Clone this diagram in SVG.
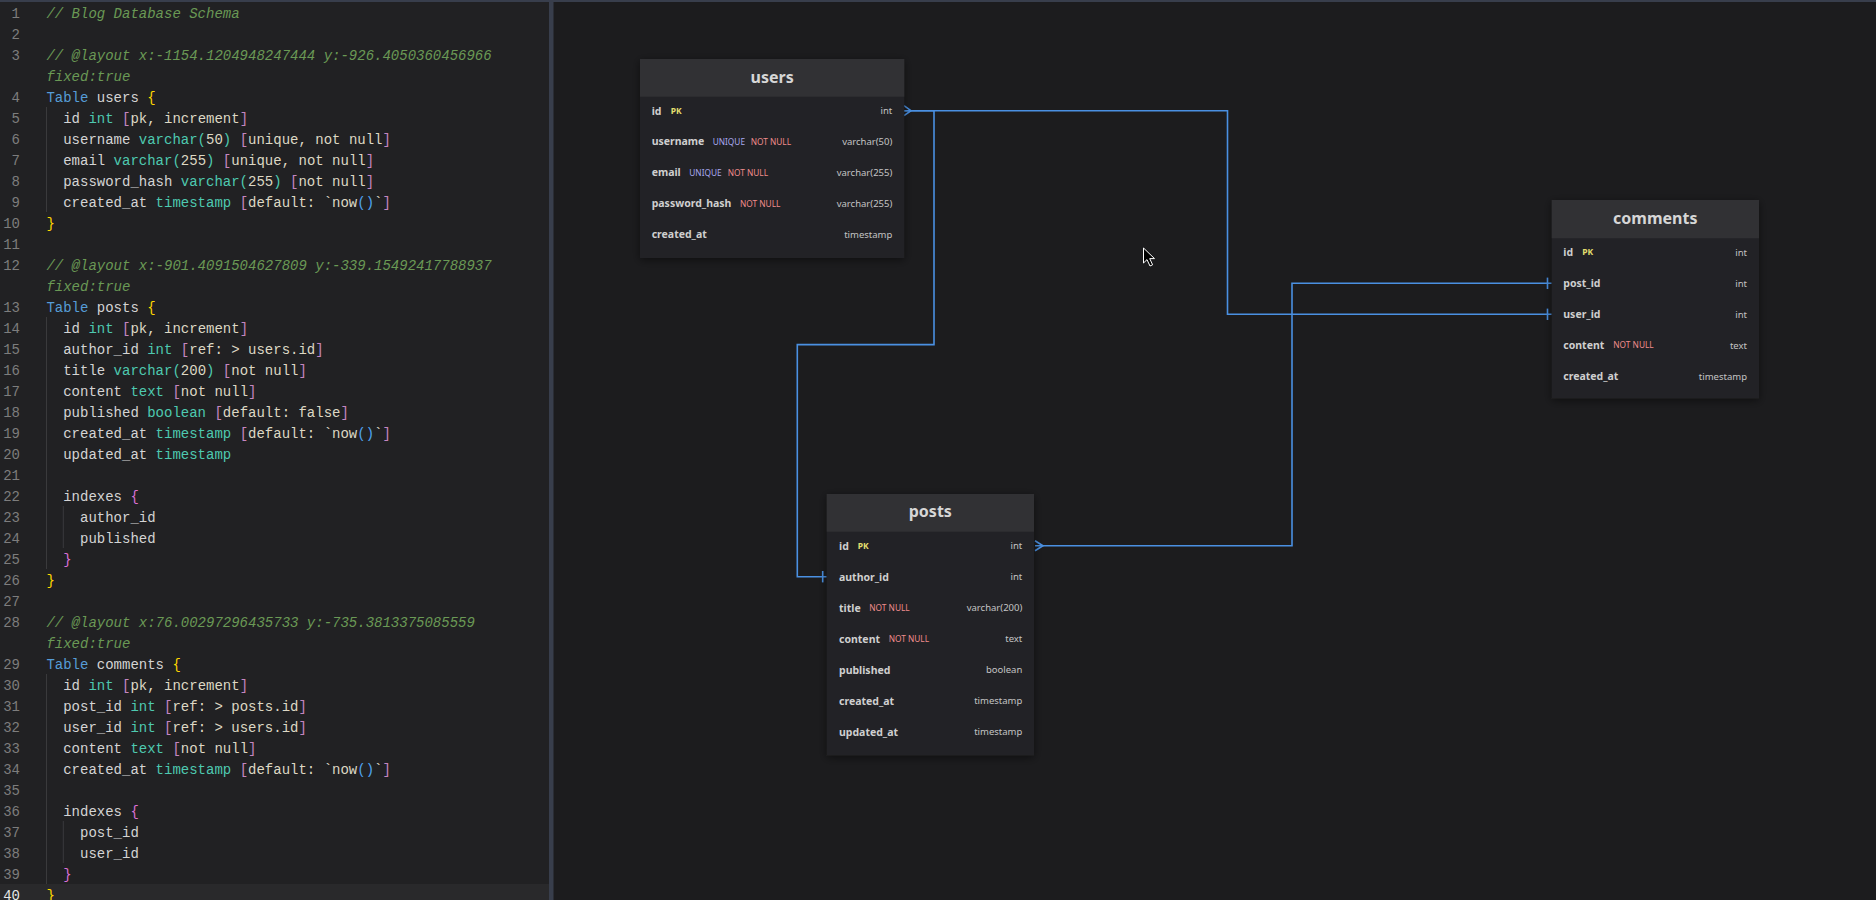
<svg xmlns="http://www.w3.org/2000/svg" width="1876" height="900" viewBox="0 0 1876 900">
<defs>
<style>
.code{font-family:"Liberation Mono","DejaVu Sans Mono",monospace;font-size:14px;fill:#d4d4d4;white-space:pre;}
.ln{font-family:"Liberation Mono","DejaVu Sans Mono",monospace;font-size:14px;fill:#7d7d7d;text-anchor:end;}
.cm{fill:#6a9955;font-style:italic;}
.kw{fill:#569cd6;}
.b1{fill:#ffd700;}
.b2{fill:#da70d6;}
.ty{fill:#4ec9b0;}
.br{fill:#c586c0;}
.st{fill:#ddd8c4;}
.fn{fill:#4fa3f0;}
.guide{stroke:#3a3a3c;stroke-width:1;}
.hdr{fill:#313134;}
.body{fill:#232326;}
.title{font-family:"Noto Sans","Open Sans",sans-serif;font-size:16px;font-weight:700;fill:#d6d6d6;text-anchor:middle;}
.fld{font-family:"Noto Sans","Open Sans",sans-serif;font-size:10.5px;font-weight:700;fill:#cfcfcf;}
.typ{font-family:"Noto Sans","Open Sans",sans-serif;font-size:9.5px;fill:#c4c4c4;text-anchor:end;}
.pk{font-family:"Noto Sans","Open Sans",sans-serif;font-size:8.5px;font-weight:700;fill:#e2de6e;}
.uq{font-family:"Noto Sans","Open Sans",sans-serif;font-size:8.3px;fill:#a8a8f0;}
.nn{font-family:"Noto Sans","Open Sans",sans-serif;font-size:8.3px;fill:#f08c8c;}
.conn{fill:none;stroke:#4a90e2;stroke-width:1.6;}
</style>
<filter id="sh" x="-10%" y="-10%" width="120%" height="120%">
<feDropShadow dx="0" dy="2" stdDeviation="4" flood-color="#000" flood-opacity="0.5"/>
</filter>
</defs>
<!-- backgrounds -->
<rect x="0" y="0" width="1876" height="900" fill="#1c1c1e"/>
<rect x="0" y="0" width="550" height="900" fill="#212123"/>
<rect x="0" y="884" width="549" height="16" fill="#29292b"/>
<rect x="549" y="0" width="4.5" height="900" fill="#383e4c"/>
<rect x="0" y="0" width="1876" height="2" fill="#383e4c"/>

<!-- editor -->
<g id="editor">
<g class="guides">
<line class="guide" x1="46.5" y1="107" x2="46.5" y2="212"/>
<line class="guide" x1="46.5" y1="317" x2="46.5" y2="569"/>
<line class="guide" x1="63.3" y1="506" x2="63.3" y2="548"/>
<line class="guide" x1="46.5" y1="674" x2="46.5" y2="884"/>
<line class="guide" x1="63.3" y1="821" x2="63.3" y2="863"/>
</g>
<g class="lines">
<text class="ln" x="20" y="17.5">1</text>
<text class="ln" x="20" y="38.5">2</text>
<text class="ln" x="20" y="59.5">3</text>
<text class="ln" x="20" y="101.5">4</text>
<text class="ln" x="20" y="122.5">5</text>
<text class="ln" x="20" y="143.5">6</text>
<text class="ln" x="20" y="164.5">7</text>
<text class="ln" x="20" y="185.5">8</text>
<text class="ln" x="20" y="206.5">9</text>
<text class="ln" x="20" y="227.5">10</text>
<text class="ln" x="20" y="248.5">11</text>
<text class="ln" x="20" y="269.5">12</text>
<text class="ln" x="20" y="311.5">13</text>
<text class="ln" x="20" y="332.5">14</text>
<text class="ln" x="20" y="353.5">15</text>
<text class="ln" x="20" y="374.5">16</text>
<text class="ln" x="20" y="395.5">17</text>
<text class="ln" x="20" y="416.5">18</text>
<text class="ln" x="20" y="437.5">19</text>
<text class="ln" x="20" y="458.5">20</text>
<text class="ln" x="20" y="479.5">21</text>
<text class="ln" x="20" y="500.5">22</text>
<text class="ln" x="20" y="521.5">23</text>
<text class="ln" x="20" y="542.5">24</text>
<text class="ln" x="20" y="563.5">25</text>
<text class="ln" x="20" y="584.5">26</text>
<text class="ln" x="20" y="605.5">27</text>
<text class="ln" x="20" y="626.5">28</text>
<text class="ln" x="20" y="668.5">29</text>
<text class="ln" x="20" y="689.5">30</text>
<text class="ln" x="20" y="710.5">31</text>
<text class="ln" x="20" y="731.5">32</text>
<text class="ln" x="20" y="752.5">33</text>
<text class="ln" x="20" y="773.5">34</text>
<text class="ln" x="20" y="794.5">35</text>
<text class="ln" x="20" y="815.5">36</text>
<text class="ln" x="20" y="836.5">37</text>
<text class="ln" x="20" y="857.5">38</text>
<text class="ln" x="20" y="878.5">39</text>
<text class="ln" x="20" y="899.5" style="fill:#e6e6e6">40</text>
</g>
<g class="src">
<text class="code cm" x="46.4" y="17.5">// Blog Database Schema</text>
<text class="code cm" x="46.4" y="59.5">// @layout x:-1154.1204948247444 y:-926.4050360456966</text>
<text class="code cm" x="46.4" y="80.5">fixed:true</text>
<text class="code" x="46.4" y="101.5"><tspan class="kw">Table</tspan> users <tspan class="b1">{</tspan></text>
<text class="code" x="63.2" y="122.5">id <tspan class="ty">int</tspan> <tspan class="br">[</tspan><tspan class="st">pk, increment</tspan><tspan class="br">]</tspan></text>
<text class="code" x="63.2" y="143.5">username <tspan class="ty">varchar(</tspan><tspan class="st">50</tspan><tspan class="ty">)</tspan> <tspan class="br">[</tspan><tspan class="st">unique, not null</tspan><tspan class="br">]</tspan></text>
<text class="code" x="63.2" y="164.5">email <tspan class="ty">varchar(</tspan><tspan class="st">255</tspan><tspan class="ty">)</tspan> <tspan class="br">[</tspan><tspan class="st">unique, not null</tspan><tspan class="br">]</tspan></text>
<text class="code" x="63.2" y="185.5">password_hash <tspan class="ty">varchar(</tspan><tspan class="st">255</tspan><tspan class="ty">)</tspan> <tspan class="br">[</tspan><tspan class="st">not null</tspan><tspan class="br">]</tspan></text>
<text class="code" x="63.2" y="206.5">created_at <tspan class="ty">timestamp</tspan> <tspan class="br">[</tspan><tspan class="st">default: `now</tspan><tspan class="fn">()</tspan><tspan class="st">`</tspan><tspan class="br">]</tspan></text>
<text class="code b1" x="46.4" y="227.5">}</text>
<text class="code cm" x="46.4" y="269.5">// @layout x:-901.4091504627809 y:-339.15492417788937</text>
<text class="code cm" x="46.4" y="290.5">fixed:true</text>
<text class="code" x="46.4" y="311.5"><tspan class="kw">Table</tspan> posts <tspan class="b1">{</tspan></text>
<text class="code" x="63.2" y="332.5">id <tspan class="ty">int</tspan> <tspan class="br">[</tspan><tspan class="st">pk, increment</tspan><tspan class="br">]</tspan></text>
<text class="code" x="63.2" y="353.5">author_id <tspan class="ty">int</tspan> <tspan class="br">[</tspan><tspan class="st">ref: &gt; users.id</tspan><tspan class="br">]</tspan></text>
<text class="code" x="63.2" y="374.5">title <tspan class="ty">varchar(</tspan><tspan class="st">200</tspan><tspan class="ty">)</tspan> <tspan class="br">[</tspan><tspan class="st">not null</tspan><tspan class="br">]</tspan></text>
<text class="code" x="63.2" y="395.5">content <tspan class="ty">text</tspan> <tspan class="br">[</tspan><tspan class="st">not null</tspan><tspan class="br">]</tspan></text>
<text class="code" x="63.2" y="416.5">published <tspan class="ty">boolean</tspan> <tspan class="br">[</tspan><tspan class="st">default: false</tspan><tspan class="br">]</tspan></text>
<text class="code" x="63.2" y="437.5">created_at <tspan class="ty">timestamp</tspan> <tspan class="br">[</tspan><tspan class="st">default: `now</tspan><tspan class="fn">()</tspan><tspan class="st">`</tspan><tspan class="br">]</tspan></text>
<text class="code" x="63.2" y="458.5">updated_at <tspan class="ty">timestamp</tspan></text>
<text class="code" x="63.2" y="500.5">indexes <tspan class="b2">{</tspan></text>
<text class="code" x="80" y="521.5">author_id</text>
<text class="code" x="80" y="542.5">published</text>
<text class="code b2" x="63.2" y="563.5">}</text>
<text class="code b1" x="46.4" y="584.5">}</text>
<text class="code cm" x="46.4" y="626.5">// @layout x:76.00297296435733 y:-735.3813375085559</text>
<text class="code cm" x="46.4" y="647.5">fixed:true</text>
<text class="code" x="46.4" y="668.5"><tspan class="kw">Table</tspan> comments <tspan class="b1">{</tspan></text>
<text class="code" x="63.2" y="689.5">id <tspan class="ty">int</tspan> <tspan class="br">[</tspan><tspan class="st">pk, increment</tspan><tspan class="br">]</tspan></text>
<text class="code" x="63.2" y="710.5">post_id <tspan class="ty">int</tspan> <tspan class="br">[</tspan><tspan class="st">ref: &gt; posts.id</tspan><tspan class="br">]</tspan></text>
<text class="code" x="63.2" y="731.5">user_id <tspan class="ty">int</tspan> <tspan class="br">[</tspan><tspan class="st">ref: &gt; users.id</tspan><tspan class="br">]</tspan></text>
<text class="code" x="63.2" y="752.5">content <tspan class="ty">text</tspan> <tspan class="br">[</tspan><tspan class="st">not null</tspan><tspan class="br">]</tspan></text>
<text class="code" x="63.2" y="773.5">created_at <tspan class="ty">timestamp</tspan> <tspan class="br">[</tspan><tspan class="st">default: `now</tspan><tspan class="fn">()</tspan><tspan class="st">`</tspan><tspan class="br">]</tspan></text>
<text class="code" x="63.2" y="815.5">indexes <tspan class="b2">{</tspan></text>
<text class="code" x="80" y="836.5">post_id</text>
<text class="code" x="80" y="857.5">user_id</text>
<text class="code b2" x="63.2" y="878.5">}</text>
<text class="code b1" x="46.4" y="899.5">}</text>
</g>
</g>

<!-- connectors -->
<g id="connectors">
<path class="conn" d="M904 110.7 H934 V344.6 H797.3 V576.7 H826.7"/>
<path class="conn" d="M904 110.7 H1227.5 V314.3 H1551.7"/>
<path class="conn" d="M1035 545.7 H1292 V283.3 H1551.7"/>
<path class="conn" d="M904 105.7 L911 110.7 L904 115.7"/>
<path class="conn" d="M1035 540.7 L1043 545.7 L1035 550.7"/>
<path class="conn" d="M822.7 571 V582.4"/>
<path class="conn" d="M1547.5 277.6 V289"/>
<path class="conn" d="M1547.5 308.6 V320"/>
</g>

<!-- users -->
<g id="users">
<rect class="body" x="640" y="59" width="264.3" height="199" filter="url(#sh)"/>
<rect class="hdr" x="640" y="59" width="264.3" height="37.7"/>
<text class="title" x="772.2" y="82.5">users</text>
<text class="fld" x="651.7" y="114.5">id</text><text class="pk" x="670.7" y="113.8">PK</text><text class="typ" x="892.3" y="114">int</text>
<text class="fld" x="651.7" y="145.3">username</text><text class="uq" x="712.7" y="144.6">UNIQUE</text><text class="nn" x="750.7" y="144.6">NOT NULL</text><text class="typ" x="892.3" y="144.8">varchar(50)</text>
<text class="fld" x="651.7" y="176.3">email</text><text class="uq" x="689.3" y="175.6">UNIQUE</text><text class="nn" x="727.7" y="175.6">NOT NULL</text><text class="typ" x="892.3" y="175.8">varchar(255)</text>
<text class="fld" x="651.7" y="207.3">password_hash</text><text class="nn" x="740" y="206.6">NOT NULL</text><text class="typ" x="892.3" y="206.8">varchar(255)</text>
<text class="fld" x="651.7" y="238.3">created_at</text><text class="typ" x="892.3" y="237.8">timestamp</text>
</g>

<!-- comments -->
<g id="comments">
<rect class="body" x="1551.7" y="200" width="207.3" height="198.5" filter="url(#sh)"/>
<rect class="hdr" x="1551.7" y="200" width="207.3" height="38.3"/>
<text class="title" x="1655.3" y="223.5">comments</text>
<text class="fld" x="1563.3" y="256.1">id</text><text class="pk" x="1582.3" y="255.4">PK</text><text class="typ" x="1747" y="255.6">int</text>
<text class="fld" x="1563.3" y="287.1">post_id</text><text class="typ" x="1747" y="286.6">int</text>
<text class="fld" x="1563.3" y="318.1">user_id</text><text class="typ" x="1747" y="317.6">int</text>
<text class="fld" x="1563.3" y="349.1">content</text><text class="nn" x="1613.3" y="348.4">NOT NULL</text><text class="typ" x="1747" y="348.6">text</text>
<text class="fld" x="1563.3" y="380.1">created_at</text><text class="typ" x="1747" y="379.6">timestamp</text>
</g>

<!-- posts -->
<g id="posts">
<rect class="body" x="826.7" y="494" width="207.3" height="261.5" filter="url(#sh)"/>
<rect class="hdr" x="826.7" y="494" width="207.3" height="37.7"/>
<text class="title" x="930.3" y="517">posts</text>
<text class="fld" x="839" y="549.5">id</text><text class="pk" x="857.7" y="548.8">PK</text><text class="typ" x="1022.3" y="549">int</text>
<text class="fld" x="839" y="580.5">author_id</text><text class="typ" x="1022.3" y="580">int</text>
<text class="fld" x="839" y="611.5">title</text><text class="nn" x="869.3" y="610.8">NOT NULL</text><text class="typ" x="1022.3" y="611">varchar(200)</text>
<text class="fld" x="839" y="642.5">content</text><text class="nn" x="888.7" y="641.8">NOT NULL</text><text class="typ" x="1022.3" y="642">text</text>
<text class="fld" x="839" y="673.5">published</text><text class="typ" x="1022.3" y="673">boolean</text>
<text class="fld" x="839" y="704.5">created_at</text><text class="typ" x="1022.3" y="704">timestamp</text>
<text class="fld" x="839" y="735.5">updated_at</text><text class="typ" x="1022.3" y="735">timestamp</text>
</g>

<!-- mouse cursor -->
<path d="M1143.5 248 V263 L1147 259.6 L1150 266 L1152.6 264.8 L1149.7 258.6 L1154.5 258.6 Z" fill="#000" stroke="#fff" stroke-width="1"/>
</svg>
